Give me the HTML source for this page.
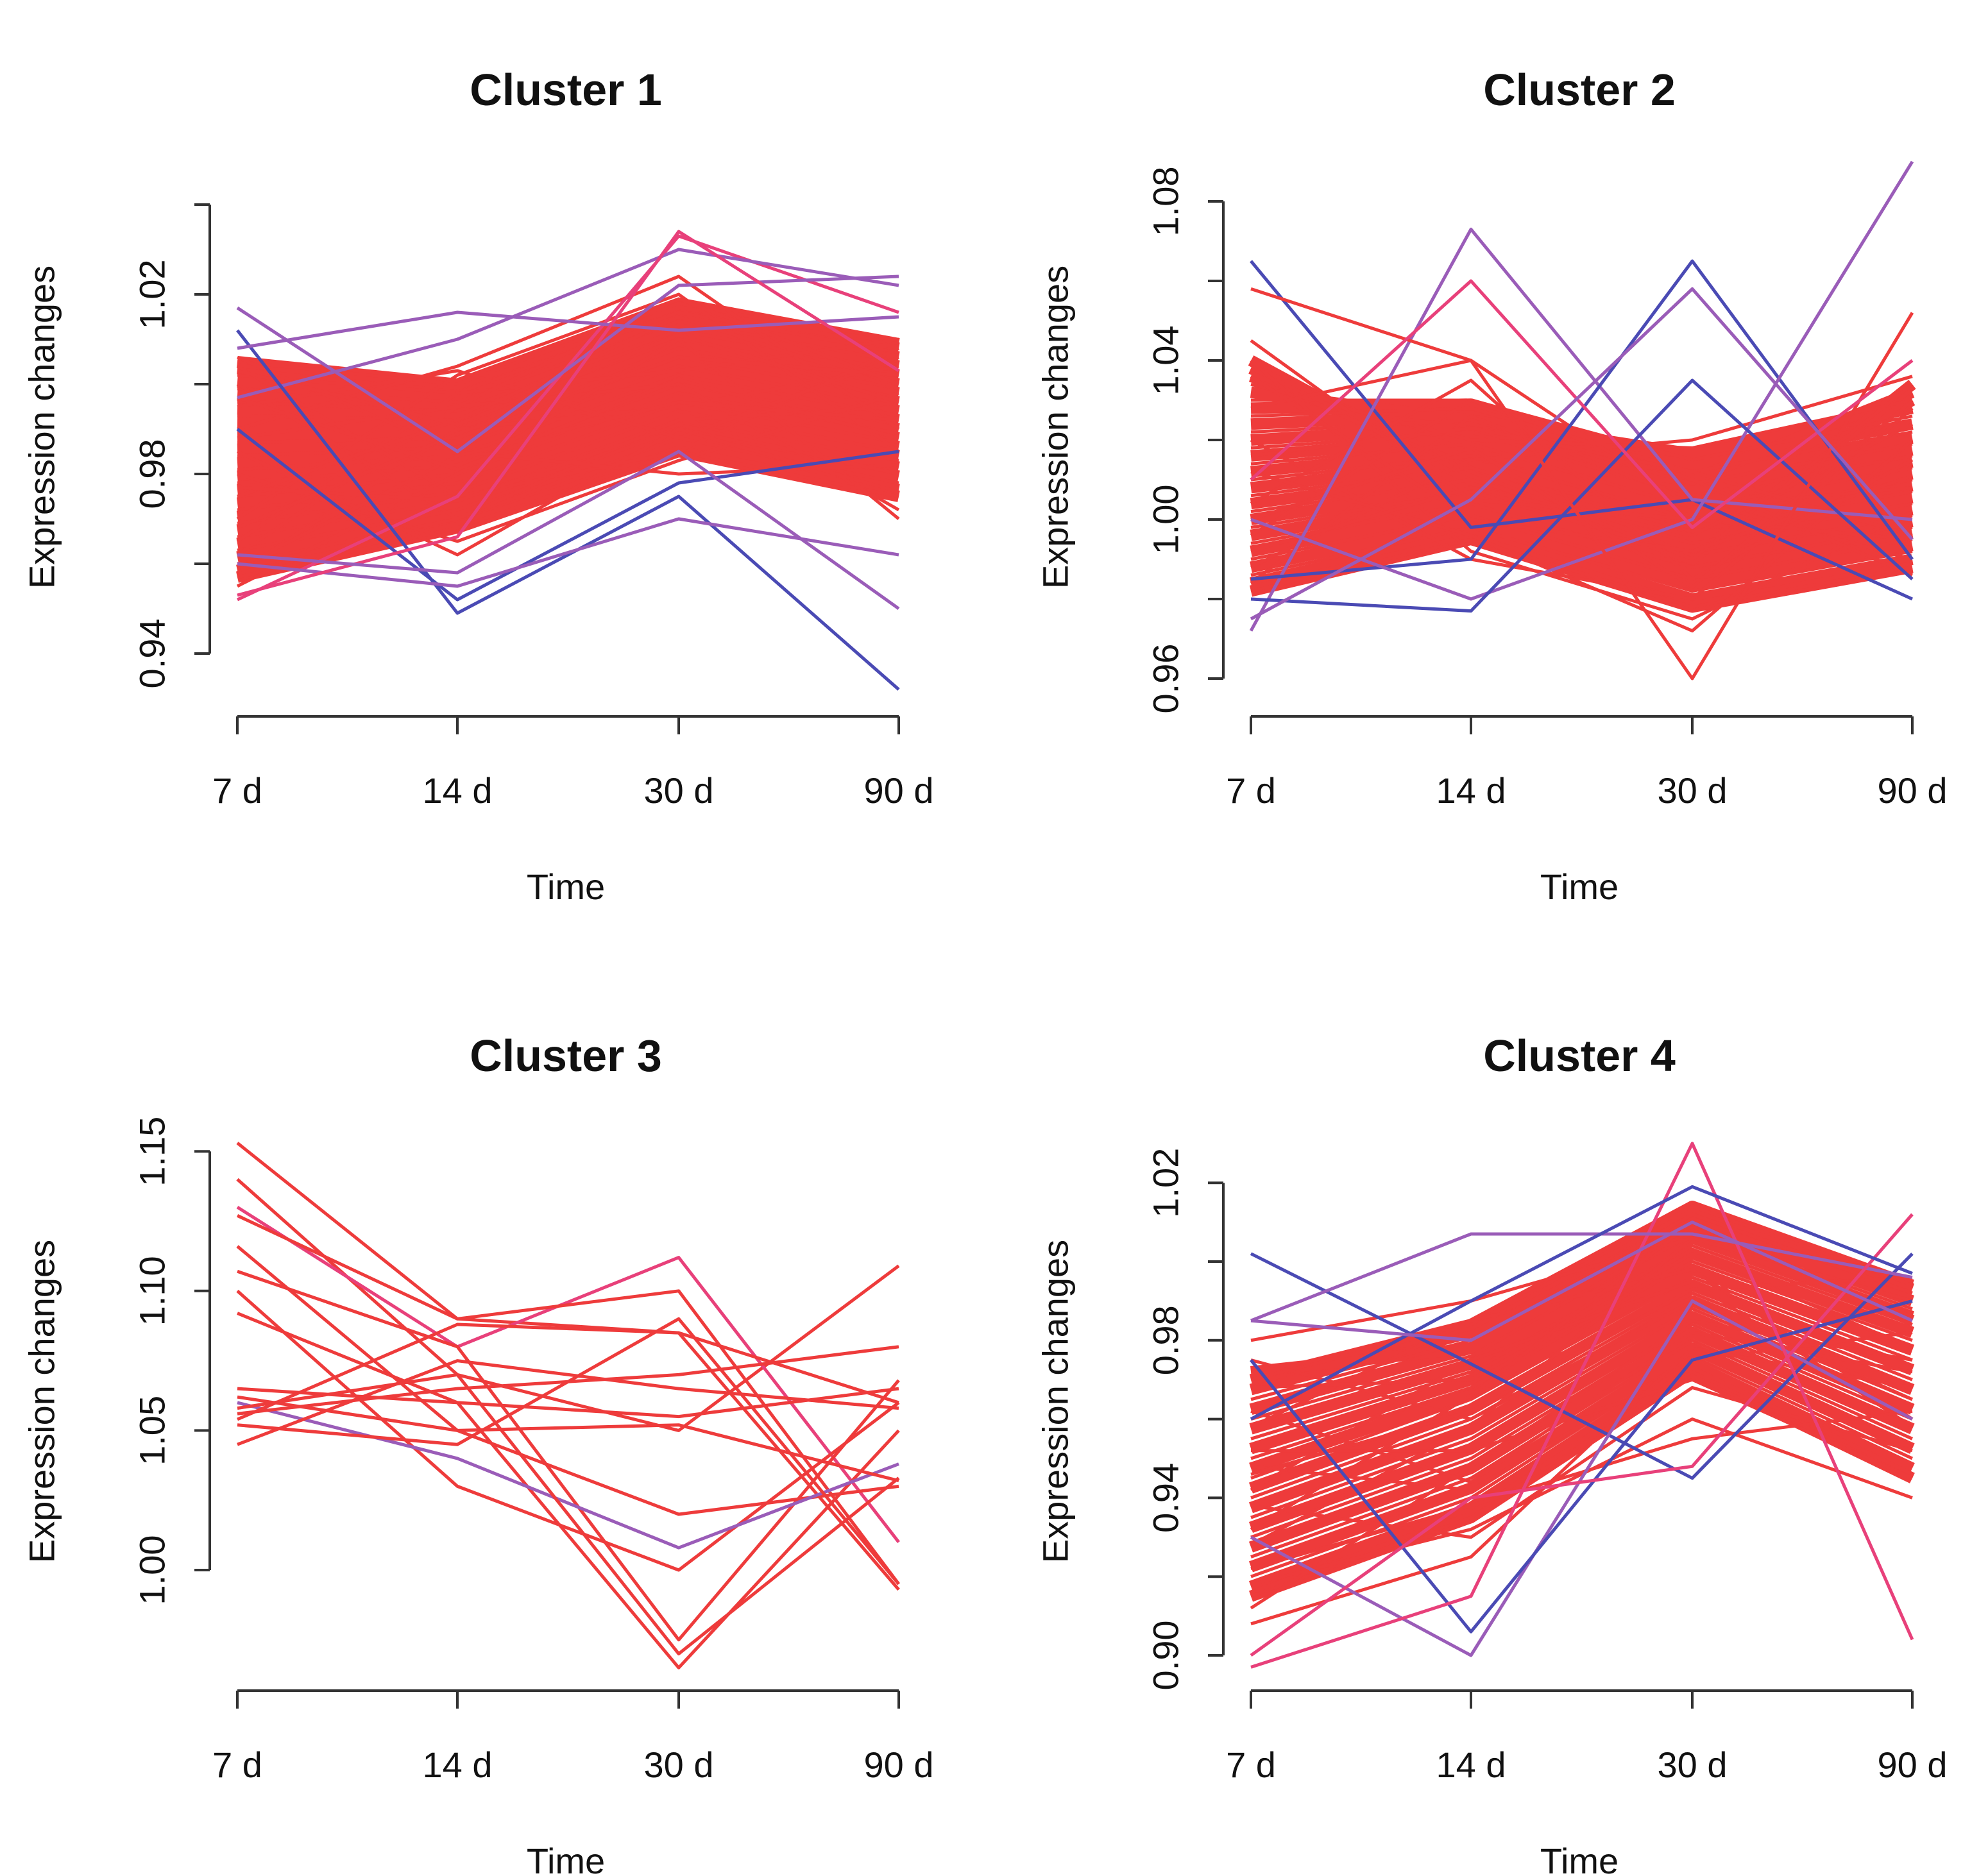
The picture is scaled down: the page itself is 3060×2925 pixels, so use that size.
<!DOCTYPE html>
<html><head><meta charset="utf-8">
<style>
html,body{margin:0;padding:0;background:#fff;}
svg{display:block;}
text{font-family:"Liberation Sans",sans-serif;fill:#111;}
</style></head>
<body>
<svg id="chart" width="3060" height="2925" viewBox="0 0 3060 2925"></svg>
<script>
const timeLabels = ["7 d","14 d","30 d","90 d"];
const clusterTitles = ["Cluster 1","Cluster 2","Cluster 3","Cluster 4"];
const c1Ticks = [0.94,0.96,0.98,1.00,1.02,1.04];
const c1TickLabels = ["0.94","","0.98","","1.02",""];
const c2Ticks = [0.96,0.98,1.00,1.02,1.04,1.06,1.08];
const c2TickLabels = ["0.96","","1.00","","1.04","","1.08"];
const c3Ticks = [1.00,1.05,1.10,1.15];
const c3TickLabels = ["1.00","1.05","1.10","1.15"];
const c4Ticks = [0.90,0.92,0.94,0.96,0.98,1.00,1.02];
const c4TickLabels = ["0.90","","0.94","","0.98","","1.02"];

const c1Core = [
[0.9585,0.969,0.9865,0.9765],[0.9615,0.971,0.9895,0.9795],[0.9645,0.973,0.9915,0.9815],[0.9675,0.975,0.9935,0.984],
[0.9705,0.977,0.9955,0.986],[0.9735,0.979,0.9975,0.988],[0.9765,0.981,0.9995,0.990],[0.9795,0.983,1.001,0.992],
[0.9825,0.985,1.003,0.994],[0.9855,0.987,1.005,0.996],[0.9885,0.989,1.007,0.998],[0.9915,0.991,1.009,1.000],
[0.9945,0.993,1.011,1.002],[0.9975,0.995,1.013,1.004],[1.0005,0.997,1.015,1.006],[1.0035,0.999,1.017,1.008],
[0.957,0.968,0.985,0.975],[1.005,1.000,1.018,1.009]];
const c1Values = [
[0.957,0.968,0.985,0.975],[0.960,0.970,0.988,0.978],[0.963,0.972,0.990,0.980],[0.966,0.974,0.992,0.983],
[0.969,0.976,0.994,0.985],[0.972,0.978,0.996,0.987],[0.975,0.980,0.998,0.989],[0.978,0.982,1.000,0.991],
[0.981,0.984,1.002,0.993],[0.984,0.986,1.004,0.995],[0.987,0.988,1.006,0.997],[0.990,0.990,1.008,0.999],
[0.993,0.992,1.010,1.001],[0.996,0.994,1.012,1.003],[0.999,0.996,1.014,1.005],[1.002,0.998,1.016,1.007],
[1.005,1.000,1.018,1.009],[0.958,0.990,0.995,1.004],[0.962,0.995,1.000,0.972],[1.004,0.975,0.985,1.008],
[1.000,0.970,0.992,0.995],[0.970,1.002,1.020,0.985],[0.980,0.965,0.983,0.998],[0.990,1.004,1.024,0.990],
[0.955,0.980,1.010,0.970],[1.006,0.985,0.980,0.982],[0.965,0.998,1.003,1.010],[0.985,0.962,0.990,0.976],
[0.995,1.003,0.988,1.006],[0.975,0.992,1.015,0.999],[0.959,0.984,0.996,0.992],[0.968,0.989,1.006,1.002],
[0.977,0.974,0.991,0.980],[0.988,0.995,1.019,1.000],[0.997,0.981,1.001,0.988],[1.003,0.991,1.011,0.996],
[0.952,0.975,1.033,1.016],[0.997,1.010,1.030,1.022],[1.017,0.985,1.022,1.024],[1.012,0.949,0.975,0.932],
[0.990,0.952,0.978,0.985],[0.960,0.955,0.970,0.962],[1.008,1.016,1.012,1.015],[0.953,0.966,1.034,1.003],
[0.962,0.958,0.985,0.950]];
const c1Colors = Array(36).fill("r").concat(["p","m","m","b","b","m","m","p","m"]);

const c2Core = [
[0.984,0.9965,0.980,0.990],[0.988,0.9995,0.9835,0.9935],[0.992,1.0025,0.9865,0.9965],[0.996,1.0055,0.9895,0.9995],
[1.000,1.0085,0.9925,1.0025],[1.004,1.0115,0.9955,1.0055],[1.008,1.0145,0.9985,1.0085],[1.012,1.0175,1.0015,1.0115],
[1.016,1.0205,1.0045,1.0145],[1.020,1.0235,1.0075,1.0175],[1.024,1.0265,1.0105,1.0205],[1.028,1.029,1.0135,1.024],
[1.032,1.025,1.0165,1.028],[1.036,1.016,1.010,1.032],[1.040,1.010,1.000,1.030],[0.982,0.995,0.978,0.988],
[1.038,1.012,0.990,1.034]];
const c2Values = [
[0.982,0.995,0.978,0.988],[0.986,0.998,0.982,0.992],[0.990,1.001,0.985,0.995],[0.994,1.004,0.988,0.998],
[0.998,1.007,0.991,1.001],[1.002,1.010,0.994,1.004],[1.006,1.013,0.997,1.007],[1.010,1.016,1.000,1.010],
[1.014,1.019,1.003,1.013],[1.018,1.022,1.006,1.016],[1.022,1.025,1.009,1.019],[1.026,1.028,1.012,1.022],
[1.030,1.030,1.015,1.026],[1.034,1.020,1.018,1.030],[1.038,1.012,0.990,1.034],[0.984,1.026,1.005,0.990],
[1.040,0.992,0.975,1.002],[0.996,1.030,1.010,0.986],[1.020,0.990,0.980,1.028],[1.004,1.035,0.985,1.015],
[1.045,1.005,1.000,0.995],[0.988,1.015,1.020,1.036],[1.012,0.996,0.972,1.020],[1.028,1.040,1.003,1.008],
[0.992,1.008,0.996,1.024],[1.016,1.023,1.012,0.996],[1.036,1.000,0.992,1.011],[1.000,1.018,0.983,1.030],
[1.065,0.998,1.005,0.980],[0.972,1.073,1.005,1.000],[0.985,0.990,1.065,0.990],[1.000,0.980,1.000,1.090],
[0.980,0.977,1.035,0.985],[1.058,1.040,0.960,1.052],[1.010,1.060,0.998,1.040],[0.975,1.005,1.058,0.995]];
const c2Colors = Array(28).fill("r").concat(["b","m","b","m","b","r","p","m"]);

const c3Core = [];
const c3Values = [
[1.153,1.090,1.085,0.993],[1.140,1.070,1.050,1.109],[1.130,1.080,1.112,1.010],[1.127,1.090,1.100,0.995],
[1.116,1.050,1.020,1.030],[1.107,1.080,0.975,1.068],[1.100,1.030,1.000,1.060],[1.092,1.060,0.965,1.050],
[1.065,1.060,1.055,1.065],[1.060,1.040,1.008,1.038],[1.056,1.065,1.070,1.080],[1.052,1.045,1.090,0.995],
[1.045,1.075,1.065,1.058],[1.062,1.050,1.052,1.032],[1.058,1.070,0.970,1.033],[1.054,1.088,1.085,1.060]];
const c3Colors = ["r","r","p","r","r","r","r","r","r","m","r","r","r","r","r","r"];

const c4Core = [
[0.9175,0.9375,0.974,0.9475],[0.9225,0.9425,0.978,0.9525],[0.9275,0.9475,0.982,0.9575],[0.9325,0.9525,0.986,0.9625],
[0.9375,0.9575,0.990,0.9675],[0.9425,0.9625,0.994,0.9725],[0.9475,0.9665,0.998,0.9775],[0.9525,0.970,1.002,0.982],
[0.9575,0.974,1.006,0.986],[0.9625,0.978,1.010,0.990],[0.9675,0.982,1.013,0.993],[0.915,0.935,0.972,0.945],
[0.970,0.984,1.014,0.994],[0.972,0.978,1.008,0.985]];
const c4Values = [
[0.915,0.935,0.972,0.945],[0.920,0.940,0.976,0.950],[0.925,0.945,0.980,0.955],[0.930,0.950,0.984,0.960],
[0.935,0.955,0.988,0.965],[0.940,0.960,0.992,0.970],[0.945,0.965,0.996,0.975],[0.950,0.968,1.000,0.980],
[0.955,0.972,1.004,0.984],[0.960,0.976,1.008,0.988],[0.965,0.980,1.012,0.992],[0.970,0.984,1.014,0.994],
[0.975,0.960,0.990,0.965],[0.912,0.948,0.985,0.975],[0.938,0.930,0.968,0.952],[0.958,0.985,0.998,0.960],
[0.928,0.958,1.006,0.990],[0.948,0.942,0.975,0.982],[0.918,0.932,0.960,0.940],[0.968,0.970,1.002,0.978],
[0.942,0.975,0.995,0.958],[0.908,0.925,0.978,0.968],[0.952,0.952,0.970,0.945],[0.932,0.966,1.010,0.986],
[0.962,0.944,0.982,0.972],[0.980,0.990,1.006,0.990],[0.922,0.938,0.955,0.962],[0.946,0.962,0.993,0.996],
[1.002,0.974,0.945,1.002],[0.930,0.900,0.990,0.960],[0.975,0.906,0.975,0.990],[0.897,0.915,1.030,0.904],
[0.985,1.007,1.007,0.996],[0.900,0.940,0.948,1.012],[0.960,0.990,1.019,0.997],[0.985,0.980,1.010,0.985]];
const c4Colors = Array(28).fill("r").concat(["b","m","b","p","m","p","b","m"]);

const palette = {r:"#ee3b3b", p:"#e8407a", m:"#9a5cb8", b:"#4a4ab4"};

const panels = [
 {title:clusterTitles[0], core:c1Core, vals:c1Values, cols:c1Colors, ticks:c1Ticks, tl:c1TickLabels, left:327, xs:[370,713,1058,1401], y0:1019, v0:0.94, pxPer:7000, axisY:1117, titleY:140, cx:882, ylabCy:666},
 {title:clusterTitles[1], core:c2Core, vals:c2Values, cols:c2Colors, ticks:c2Ticks, tl:c2TickLabels, left:1907, xs:[1950,2293,2638,2981], y0:1058, v0:0.96, pxPer:6200, axisY:1117, titleY:140, cx:2462, ylabCy:666},
 {title:clusterTitles[2], core:c3Core, vals:c3Values, cols:c3Colors, ticks:c3Ticks, tl:c3TickLabels, left:327, xs:[370,713,1058,1401], y0:2448, v0:1.00, pxPer:4352, axisY:2636, titleY:1646, cx:882, ylabCy:2185},
 {title:clusterTitles[3], core:c4Core, vals:c4Values, cols:c4Colors, ticks:c4Ticks, tl:c4TickLabels, left:1907, xs:[1950,2293,2638,2981], y0:2581, v0:0.90, pxPer:6140, axisY:2636, titleY:1646, cx:2462, ylabCy:2185}
];

const NS = "http://www.w3.org/2000/svg";
const svg = document.getElementById("chart");
function mk(tag, attrs, parent){
  const e = document.createElementNS(NS, tag);
  for (const k in attrs) e.setAttribute(k, attrs[k]);
  (parent||svg).appendChild(e);
  return e;
}

panels.forEach((p, pi) => {
  const g = mk("g", {});
  
  
  const yS = v => p.y0 - (v - p.v0) * p.pxPer;
  const cg = mk("g", {fill:"none","stroke-width":18,"stroke-linejoin":"round",stroke:palette.r}, g);
  
  
  p.core.forEach(row => {
    const pts = row.map((v, i) => p.xs[i] + "," + yS(v).toFixed(1)).join(" ");
    const pl = mk("polyline", {points:pts}, cg);
    
    
  });
  const lg = mk("g", {fill:"none","stroke-width":5,"stroke-linejoin":"round"}, g);
  
  
  p.vals.forEach((row, ri) => {
    const pts = row.map((v, i) => p.xs[i] + "," + yS(v).toFixed(1)).join(" ");
    const pl = mk("polyline", {points:pts, stroke:palette[p.cols[ri]]}, lg);
    
    
  });
  const yTop = yS(p.ticks[p.ticks.length-1]), yBot = yS(p.ticks[0]);
  const ya = mk("path", {d:`M${p.left},${yTop}V${yBot}`, stroke:"#333","stroke-width":4,fill:"none"}, g);
  
  
  p.ticks.forEach((t, i) => {
    const y = yS(t);
    const tk = mk("path", {d:`M${p.left-24},${y}H${p.left}`, stroke:"#333","stroke-width":4}, g);
    
    
    if (p.tl[i]) {
      const tx = mk("text", {x:0, y:0, transform:`translate(${p.left-90},${y}) rotate(-90)`, "text-anchor":"middle", "dominant-baseline":"central", "font-size":56}, g);
      tx.textContent = p.tl[i];
      
      
    }
  });
  const xa = mk("path", {d:`M${p.xs[0]},${p.axisY}H${p.xs[3]}`, stroke:"#333","stroke-width":4,fill:"none"}, g);
  
  
  p.xs.forEach((x, i) => {
    const tk = mk("path", {d:`M${x},${p.axisY}V${p.axisY+28}`, stroke:"#333","stroke-width":4}, g);
    
    
    const tx = mk("text", {x:x, y:p.axisY+135, "text-anchor":"middle", "font-size":56}, g);
    tx.textContent = timeLabels[i];
    
    
  });
  const xt = mk("text", {x:p.cx, y:p.axisY+285, "text-anchor":"middle", "font-size":56}, g);
  xt.textContent = "Time";
  
  
  const yt = mk("text", {x:0, y:0, transform:`translate(${p.left-262},${p.ylabCy}) rotate(-90)`, "text-anchor":"middle", "dominant-baseline":"central", "font-size":56}, g);
  yt.textContent = "Expression changes";
  
  
  const tt = mk("text", {x:p.cx, y:p.titleY+24, "text-anchor":"middle", "font-size":70, "font-weight":"bold"}, g);
  tt.textContent = p.title;
  
  
});
</script>
</body></html>
